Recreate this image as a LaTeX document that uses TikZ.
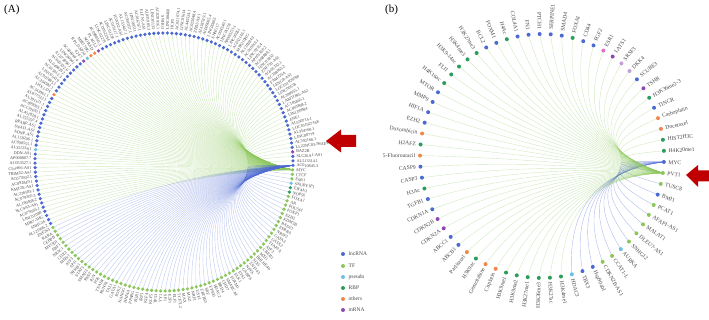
\documentclass[tikz,border=0pt]{standalone}
\usepackage{fontspec}
\setmainfont{Liberation Serif}
\usetikzlibrary{calc}
\pgfdeclarelayer{bg}
\pgfsetlayers{bg,main}
\definecolor{lnc}{RGB}{77,106,211}
\definecolor{tf}{RGB}{140,199,92}
\definecolor{pse}{RGB}{108,192,229}
\definecolor{rbp}{RGB}{42,157,92}
\definecolor{oth}{RGB}{242,133,74}
\definecolor{mrn}{RGB}{142,72,176}
\definecolor{pnk}{RGB}{226,110,200}
\definecolor{lpu}{RGB}{196,160,216}
\definecolor{arr}{RGB}{192,0,0}
\definecolor{lblc}{RGB}{70,70,70}
\tikzset{
  dotA/.style={circle,inner sep=0pt,minimum size=3.6pt,fill=#1,draw=none},
  dotB/.style={circle,inner sep=0pt,minimum size=4pt,fill=#1,draw=none},
  lblA/.style={font=\fontsize{4.2}{5}\selectfont,text=lblc,inner sep=0pt},
  lblB/.style={font=\fontsize{5.6}{6}\selectfont,text=lblc,inner sep=0pt},
  edgeG/.style={draw=tf,line width=0.4pt,opacity=0.4},
  edgeBl/.style={draw=lnc,line width=0.4pt,opacity=0.36},
  lgtext/.style={font=\fontsize{5.5}{6}\selectfont,text=lblc,inner sep=0pt},
  paneltag/.style={font=\fontsize{11}{12}\selectfont,inner sep=0pt},
}
% quadratic edge: #1 style, #2 hub, #3 target, #4 circle centre
\newcommand\qedge[4]{%
  \coordinate (qm) at ($(#2.center)!0.5!(#3.center)$);
  \coordinate (qc) at ($(#4)!0.3!(qm)$);
  \draw[#1] (#2.center) .. controls ($(#2.center)!0.6667!(qc)$) and ($(#3.center)!0.6667!(qc)$) .. (#3.center);
}
\def\listA{MYC/tf,AC010845.3/lnc,AL513314.1/lnc,SLC26A1-AS1/lnc,BAZ2B/mrn,LL22NC03-N64E9.1/lnc,AL592166.1/lnc,LINC00779/lnc,AL354760.1/lnc,LOC101927168/lnc,AL590714.1/lnc,ENE1/lnc,LINC00884/lnc,AC093808.2/lnc,AC103865.1/lnc,LAMTOR5-AS1/lnc,AL390955.1/lnc,LINC00578/lnc,LOC101929780/lnc,LENG8-AS1/lnc,FAM225A/lnc,AC108063.2/lnc,AC005332.1/lnc,ZNF710-AS1/lnc,LINC01852/lnc,AC068888.1/lnc,AP001160.2/lnc,LINC02154/lnc,AC010616.1/lnc,AL136084.3/lnc,MIR210HG/lnc,AC012146.1/lnc,LINC00261/lnc,AP000251.1/lnc,LINC01578/lnc,AC004540.1/lnc,SNHG17/lnc,LINC00665/lnc,AC009065.4/lnc,AL138789.1/lnc,ZEB2-AS1/lnc,AC025048.4/lnc,AL445524.1/lnc,LINC01614/lnc,AC021074.1/lnc,HCP5/lnc,LINC00460/lnc,SNHG3/lnc,AC020916.1/lnc,LINC01133/lnc,AL031985.3/lnc,ELFN1-AS1/lnc,AC016747.1/lnc,LINC00511/lnc,AC091057.1/lnc,AL133467.1/lnc,FOXD2-AS1/lnc,AC019117.1/lnc,LINC01234/lnc,AC005229.4/lnc,LINC02273/lnc,AC099850.3/lnc,PLAGL2/mrn,NORAD/oth,MIR17HG/oth,RPL13AP20/pse,E2F7/mrn,AC006064.4/lnc,LINC00941/lnc,AC073896.1/lnc,AC005332.6/lnc,AL049839.2/lnc,AC015912.3/lnc,LINC01419/lnc,AC007485.1/lnc,AC234582.1/lnc,LHX1-DT/oth,AC243961.1/lnc,AL077532.1/lnc,AL391121.1/lnc,AC099063.1/lnc,AC139100.1/lnc,AL451828.1/lnc,AL355297.4/lnc,RPARP-AS1/lnc,SNAI3-AS1/lnc,ADNP-AS1/lnc,AL158206.1/lnc,AC008555.1/lnc,AL355338.1/pse,DDN-AS1/lnc,AP000807.7/lnc,AC053527.1/lnc,C5orf66-AS1/lnc,TRIM52-AS1/lnc,AC073932.1/lnc,AC092849.1/lnc,KMT2E-AS1/lnc,AC236583.1/lnc,AC079305.3/lnc,AL160408.2/lnc,SLC9A3-AS1/lnc,AC079305.1/lnc,LINC01088/lnc,MIR7-3HG/lnc,SNHG16/lnc,AL121906.2/lnc,ZNF263/tf,RARA/tf,CEBPB/tf,MYOD1/tf,EBF1/tf,NR3C1/tf,CDX2/tf,MEIS1/tf,ATF3/tf,SPI1/tf,NFKB1/tf,STAT3/tf,SMAD3/tf,REST/tf,JUN/tf,FOS/tf,TEAD4/tf,RUNX1/tf,TAL1/tf,GATA1/tf,SOX2/tf,NANOG/tf,HNF4A/tf,PPARG/tf,EGR1/tf,IRF1/tf,KLF4/tf,KLF5/tf,TP53/tf,YY1/tf,SP1/tf,E2F1/tf,ELF1/tf,TCF7L2/tf,MAX/tf,MAZ/tf,NRF1/tf,USF1/tf,ZBTB33/tf,SRF/tf,EP300/tf,HDAC2/tf,BRD4/tf,CHD7/tf,SMARCA4/tf,FOXM1/tf,ELK1/tf,ETS1/tf,GABPA/tf,NFYA/tf,ZNF143/tf,SIX5/tf,BHLHE40/tf,MXI1/tf,CREB1/tf,ATF2/tf,TFAP2A/tf,GATA2/tf,GATA3/tf,NR2F2/tf,ESRRA/tf,RAD21/tf,KDM5B/tf,EZH2/tf,FOXP1/tf,POU5F1/tf,AR/tf,FOXA1/tf,NOP56/rbp,EIF4A3/rbp,SNURF1P1/pse,ESR1/tf,CTCF/tf}
\def\listB{MYC/lnc,PVT1/tf,TUSC8/tf,BMI1/lnc,PCAT1/tf,AFAP1-AS1/tf,MALAT1/tf,DLEU7-AS1/tf,SNHG12/tf,AURKA/pse,CCAT1-L/tf,CDKN2B-AS1/tf,Hsp90ab1/lnc,TBX3/lnc,HDAC3/pse,H3K4me1/rbp,H3K27ac/rbp,H3K36me3/rbp,H3K27me1/rbp,H3K9me2/rbp,H3K9me1/rbp,Cisplatin/oth,Gemcitabine/oth,H3K9ac/rbp,Paclitaxel/oth,ABCB1/lnc,ABCC1/lnc,CDKN2A/mrn,CDKN2B/mrn,CDKN1A/lnc,TGFB1/lnc,H3Ac/rbp,CASP3/lnc,CASP9/lnc,5-Fluorouracil/oth,H2AFZ/rbp,Doxorubicin/oth,EZH2/lnc,HIF1A/lnc,MMP9/lnc,MTOR/lnc,H4K16ac/rbp,FLI1/rbp,H3K9-14ac/rbp,H3K4me3/rbp,H3K27me3/rbp,BCL2/lnc,FOXM1/lnc,H4Ac/rbp,COL4A1/lnc,FN1/lnc,PTCH1/lnc,SERPINE1/lnc,SMAD4/lnc,FOXA1/rbp,CD44/lnc,FGF2/lnc,ESR1/pnk,LATS1/mrn,SRSF3/lpu,DKK4/lpu,SCUBE3/lnc,TSHR/mrn,H3K36me2-3/rbp,TINCR/lnc,Carboplatin/oth,Docetaxel/oth,HIST2H3C/rbp,H4K20me1/rbp}
\begin{document}
\begin{tikzpicture}[x=1pt,y=1pt]
\path[use as bounding box] (0,0) rectangle (709,320);
\coordinate (ca) at (164,158);
\coordinate (cb) at (542,164);
% ---------- panel A ----------
\foreach \lab/\col [count=\i from 0] in \listA {
  \pgfmathsetmacro\ang{-3.5+2*\i}
  \pgfmathtruncatemacro\flip{(\ang>90 && \ang<270)?1:0}
  \node[dotA=\col] (da\i) at ($(ca)+(\ang:129)$) {};
  \ifnum\flip=1
    \pgfmathsetmacro\rot{\ang-180}
    \node[lblA,anchor=east,rotate=\rot] (la\i) at ($(ca)+(\ang:132.5)$) {\lab};
  \else
    \node[lblA,anchor=west,rotate=\ang] (la\i) at ($(ca)+(\ang:132.5)$) {\lab};
  \fi
}
\begin{pgfonlayer}{bg}
\foreach \i in {2,...,106} { \qedge{edgeG}{da0}{da\i}{ca} }
\foreach \i in {107,...,179} { \qedge{edgeBl}{da1}{da\i}{ca} }
\end{pgfonlayer}
% ---------- panel B ----------
\foreach \lab/\col [count=\i from 0] in \listB {
  \pgfmathsetmacro\ang{357.2-5.21739*\i}
  \pgfmathtruncatemacro\flip{(\ang>90 && \ang<270)?1:0}
  \node[dotB=\col] (db\i) at ($(cb)+(\ang:122)$) {};
  \ifnum\flip=1
    \pgfmathsetmacro\rot{\ang-180}
    \node[lblB,anchor=east,rotate=\rot] (lb\i) at ($(cb)+(\ang:126.5)$) {\lab};
  \else
    \node[lblB,anchor=west,rotate=\ang] (lb\i) at ($(cb)+(\ang:126.5)$) {\lab};
  \fi
}
\begin{pgfonlayer}{bg}
\foreach \i in {1,...,14} { \qedge{edgeBl,opacity=0.45}{db0}{db\i}{cb} }
\foreach \i in {15,...,68} { \qedge{edgeG}{db1}{db\i}{cb} }
\end{pgfonlayer}
% ---------- legend ----------
\foreach \t/\c/\yy [count=\j] in {lncRNA/lnc/254,TF/tf/266,pseudo/pse/277,RBP/rbp/288,others/oth/299,mRNA/mrn/310}{
  \node[dotB=\c] (lg\j) at (343,320-\yy) {};
  \node[lgtext,anchor=west] (lt\j) at (348.5,320-\yy) {\t};
}
% ---------- red arrows ----------
\fill[arr] (326,179) -- (341,190.5) -- (341,185) -- (356,185) -- (356,173) -- (341,173) -- (341,167.5) -- cycle;
\fill[arr] (686,145) -- (698,155) -- (698,149.5) -- (709,149.5) -- (709,138.5) -- (698,138.5) -- (698,133) -- cycle;
% ---------- panel tags ----------
\node[paneltag,anchor=north west] (tagA) at (4,315) {(A)};
\node[paneltag,anchor=north west] (tagB) at (385,315) {(b)};
\end{tikzpicture}
\end{document}
